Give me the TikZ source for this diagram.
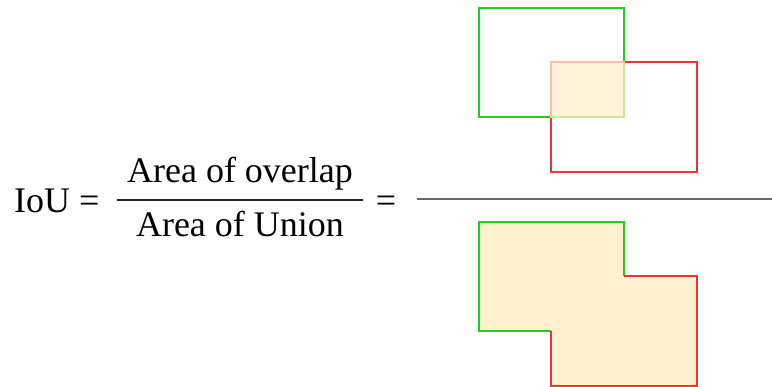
\documentclass[tikz,border=0pt]{standalone}
\usepackage{fontspec}
\setmainfont{Liberation Serif}
\definecolor{boxgreen}{HTML}{22CC22}
\definecolor{boxred}{HTML}{EE3333}
\definecolor{areafill}{HTML}{FFF0CE}
\definecolor{rulegray}{HTML}{666666}
\tikzset{
  txt/.style={font=\fontsize{36}{42}\selectfont, inner sep=0pt},
  gbox/.style={draw=boxgreen, line width=2pt},
  rbox/.style={draw=boxred, line width=2pt},
  frac/.style={draw=black!85, line width=1.6pt},
  bigfrac/.style={draw=rulegray, line width=2.5pt}
}
\begin{document}
\begin{tikzpicture}[x=1pt,y=-1pt]
\useasboundingbox (0,0) rectangle (772,387);
% text
\node[txt, anchor=base west] (iou) at (14,213) {IoU =};
\node[txt, anchor=base] (num) at (240,183) {Area of overlap};
\node[txt, anchor=base] (den) at (240,237) {Area of Union};
\draw[frac] (117,200) -- (363,200);
\node[txt, anchor=base] (eq) at (386,213) {=};
\draw[bigfrac] (417,199) -- (772,199);
% top: intersection
\draw[gbox] (479,8) rectangle (624,117);
\draw[rbox] (551,62) rectangle (697,172);
\fill[areafill, opacity=0.75] (550,61) rectangle (625,118);
% bottom: union
\fill[areafill] (479,222) -- (624,222) -- (624,276) -- (697,276) -- (697,386) -- (551,386) -- (551,331) -- (479,331) -- cycle;
\draw[gbox] (551,331) -- (479,331) -- (479,222) -- (624,222) -- (624,276);
\draw[rbox] (624,276) -- (697,276) -- (697,386) -- (551,386) -- (551,331);
\end{tikzpicture}
\end{document}
